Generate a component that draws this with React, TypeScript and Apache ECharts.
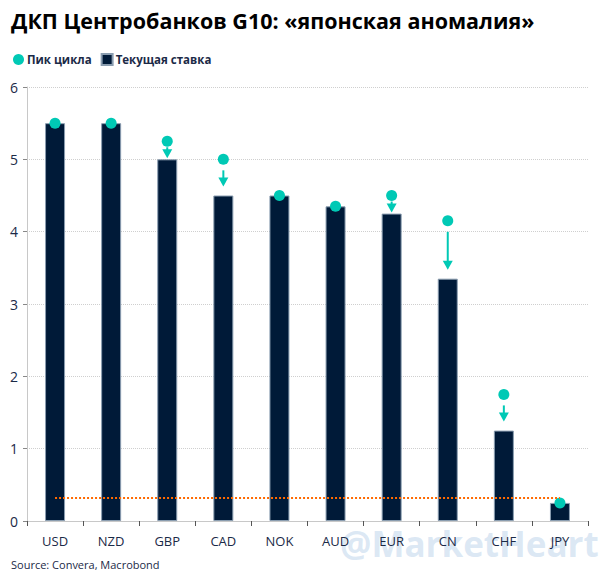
import React, { useEffect, useRef } from "react";
import * as echarts from "echarts";

const categories = ["USD", "NZD", "GBP", "CAD", "NOK", "AUD", "EUR", "CN", "CHF", "JPY"];
const currentRate = [5.5, 5.5, 5.0, 4.5, 4.5, 4.35, 4.25, 3.35, 1.25, 0.25];
const cyclePeak = [5.5, 5.5, 5.25, 5.0, 4.5, 4.35, 4.5, 4.15, 1.75, 0.25];
const refLevel = 0.32;
const yTicks = [0, 1, 2, 3, 4, 5, 6];

const NAVY = "#001a38";
const TEAL = "#00c9b5";
const TEXT = "#1b2a47";
const FONT = "'Open Sans', 'Noto Sans', sans-serif";

export default function App() {
  const ref = useRef<HTMLDivElement>(null);
  useEffect(() => {
    document.body.style.margin = "0";
    const chart = echarts.init(ref.current!, null, { renderer: "svg" });
    const arrowData = categories.map((c, i) => [i, cyclePeak[i], currentRate[i]]);
    chart.setOption({
      animation: false,
      backgroundColor: "#ffffff",
      textStyle: { fontFamily: FONT },
      title: {
        text: "ДКП Центробанков G10: «японская аномалия»",
        left: 6,
        top: 4,
        textStyle: { fontFamily: FONT, fontWeight: "bold", fontSize: 21.5, color: "#000000" },
      },
      legend: {
        left: 8,
        top: 48,
        itemWidth: 11,
        itemHeight: 11,
        itemGap: 9,
        data: [
          { name: "Пик цикла", icon: "circle" },
          { name: "Текущая ставка", icon: "rect" },
        ],
        textStyle: { fontFamily: FONT, fontWeight: "bold", fontSize: 11.5, color: TEXT, padding: [0, 0, 0, -2] },
      },
      graphic: [
        {
          type: "text",
          left: 340,
          top: 526,
          z: -1,
          style: {
            text: "@MarketHeart",
            font: "bold 35px 'Open Sans', sans-serif",
            fill: "rgba(190,212,236,0.55)",
          },
        },
        {
          type: "text",
          left: 11,
          top: 559,
          style: {
            text: "Source: Convera, Macrobond",
            font: "11px 'Open Sans', sans-serif",
            fill: TEXT,
          },
        },
      ],
      grid: { left: 27, right: 16, top: 87, bottom: 62, containLabel: false },
      xAxis: {
        type: "category",
        data: categories,
        boundaryGap: true,
        axisLine: { show: true, lineStyle: { color: "#c8c8c8", width: 1 } },
        axisTick: { show: true, alignWithLabel: false, length: 5, lineStyle: { color: "#555" } },
        axisLabel: { color: TEXT, fontSize: 13, margin: 13, fontFamily: FONT },
      },
      yAxis: {
        type: "value",
        min: yTicks[0],
        max: yTicks[yTicks.length - 1],
        interval: 1,
        axisLine: { show: true, lineStyle: { color: "#c8c8c8", width: 1 } },
        axisTick: { show: true, length: 4, lineStyle: { color: "#888" } },
        axisLabel: { color: TEXT, fontSize: 14, margin: 9, fontFamily: FONT },
        splitLine: { show: true, lineStyle: { color: "#cfcfcf", type: "dotted", width: 1 } },
      },
      series: [
        {
          name: "Текущая ставка",
          type: "bar",
          data: currentRate,
          barWidth: 20,
          itemStyle: { color: NAVY, borderColor: "#8a9db0", borderWidth: 1 },
          z: 2,
          markLine: {
            silent: true,
            symbol: "none",
            label: { show: false },
            lineStyle: { color: "#ff6a00", type: "dotted", width: 2 },
            data: [[{ coord: [categories[0], refLevel] }, { coord: [categories[categories.length - 1], refLevel] }]],
            z: 5,
          },
        },
        {
          name: "arrows",
          type: "custom",
          data: arrowData,
          z: 3,
          renderItem: (params: any, api: any) => {
            const i = api.value(0);
            const peak = api.value(1);
            const cur = api.value(2);
            if (peak - cur < 0.01) return null;
            const p = api.coord([i, peak]);
            const b = api.coord([i, cur]);
            const gap = b[1] - p[1];
            let y0: number, y1: number;
            if (gap < 25) {
              y0 = p[1] + 6;
              y1 = b[1] - 1;
            } else {
              y0 = p[1] + 11;
              y1 = b[1] - 9;
            }
            const x = p[0];
            const headH = 9;
            const headW = 5;
            return {
              type: "group",
              children: [
                {
                  type: "line",
                  shape: { x1: x, y1: y0, x2: x, y2: y1 - headH + 1 },
                  style: { stroke: TEAL, lineWidth: 2 },
                },
                {
                  type: "polygon",
                  shape: { points: [[x - headW, y1 - headH], [x + headW, y1 - headH], [x, y1]] },
                  style: { fill: TEAL },
                },
              ],
            };
          },
        },
        {
          name: "Пик цикла",
          type: "scatter",
          data: cyclePeak,
          symbol: "circle",
          symbolSize: 11,
          itemStyle: { color: TEAL, opacity: 1 },
          z: 4,
        },
      ],
      color: [TEAL, NAVY],
    });
    return () => chart.dispose();
  }, []);
  return <div ref={ref} style={{ width: 604, height: 583 }} />;
}
